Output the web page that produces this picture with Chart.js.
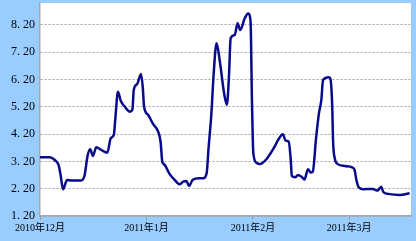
<!DOCTYPE html>
<html>
<head>
<meta charset="utf-8">
<script src="https://cdn.jsdelivr.net/npm/chart.js@4/dist/chart.umd.min.js"></script>
<style>
  html, body { margin: 0; padding: 0; background: #99ccff; }
  #chart { display: block; }
</style>
</head>
<body>
<canvas id="chart" width="416" height="241"></canvas>
<script>
// jours depuis le 1er décembre 2010
const days = [
    0, 2.8, 4.3, 5.4, 6.0, 6.7, 7.9, 9.1, 12.0, 13.0, 13.8, 14.6, 15.4, 16.4, 17.8, 19.6,
    20.6, 21.5, 21.9, 22.7, 23.5, 24.7, 26.2, 26.9, 27.3, 28.3, 29.4, 29.9, 30.3, 31.5,
    32.9, 34.4, 35.1, 35.6, 36.3, 37.6, 39.2, 40.7, 41.7, 42.6, 43.4, 44.4, 46.3, 47.5,
    48.5, 49.1, 49.9, 50.5, 51.4, 52.3, 53.6, 54.4, 55.0, 55.5, 56.7, 57.5, 58.3, 59.6,
    60.6, 61.3, 61.7, 62.1, 63.0, 64.0, 65.9, 68.3, 69.3, 70.7, 71.5, 72.4, 73.0, 73.3,
    74.3, 75.1, 76.1, 77.0, 78.0, 78.8, 79.4, 80.4, 81.2, 81.9, 82.4, 84.1, 84.5, 84.8,
    85.1, 85.3, 85.8, 86.7, 88.7, 90.9, 91.6, 92.1, 92.8, 94.0, 96.9, 98.3, 99.3, 100.0,
    101.3, 104.7, 107.6
];
const rates = [
    3.35, 3.35, 3.25, 3.07, 2.70, 2.18, 2.52, 2.50, 2.50, 2.70, 3.37, 3.64, 3.40, 3.72, 3.62, 3.52,
    4.05, 4.17, 4.72, 5.75, 5.42, 5.20, 5.02, 5.10, 5.82, 6.03, 6.40, 5.94, 5.20, 4.90,
    4.57, 4.29, 3.92, 3.19, 3.07, 2.76, 2.52, 2.36, 2.46, 2.48, 2.30, 2.52, 2.58, 2.58,
    2.76, 3.74, 4.96, 6.30, 7.53, 6.91, 5.69, 5.27, 6.30, 7.71, 7.83, 8.26, 8.01, 8.44,
    8.62, 8.32, 5.45, 3.50, 3.15, 3.10, 3.28, 3.74, 3.98, 4.19, 3.96, 3.92, 3.25, 2.67,
    2.62, 2.70, 2.64, 2.54, 2.91, 2.79, 2.82, 4.10, 4.96, 5.45, 6.18, 6.28, 6.24, 5.94,
    5.08, 3.98, 3.31, 3.10, 3.03, 2.98, 2.88, 2.52, 2.25, 2.18, 2.19, 2.13, 2.27, 2.07,
    2.01, 1.97, 2.03
];
const monthTicks = [0, 31, 62, 90];
const monthLabels = ['2010年12月', '2011年1月', '2011年2月', '2011年3月'];
const yTicks = [1.2, 2.2, 3.2, 4.2, 5.2, 6.2, 7.2, 8.2];

const labelFont = { family: '"Liberation Serif", "Noto Sans CJK SC", serif', size: 10 };

// fond bleu + zone de tracé blanche
const backgroundPlugin = {
    id: 'fonds',
    beforeDraw(chart) {
        const ctx = chart.ctx;
        const a = chart.chartArea;
        ctx.save();
        ctx.fillStyle = '#99ccff';
        ctx.fillRect(0, 0, chart.width, chart.height);
        ctx.fillStyle = '#ffffff';
        ctx.fillRect(a.left, a.top, a.right - a.left, a.bottom - a.top);
        ctx.restore();
    }
};

new Chart(document.getElementById('chart'), {
    type: 'line',
    data: {
        datasets: [{
            data: days.map((d, i) => ({ x: d, y: rates[i] })),
            borderColor: '#0a0a8c',
            borderWidth: 2.5,
            pointRadius: 0,
            fill: false,
            cubicInterpolationMode: 'monotone'
        }]
    },
    options: {
        responsive: false,
        animation: false,
        layout: { padding: { left: 0, right: 5, top: 3, bottom: 0 } },
        plugins: {
            legend: { display: false },
            tooltip: { enabled: false }
        },
        scales: {
            x: {
                type: 'linear',
                min: 0,
                max: 108,
                afterBuildTicks: scale => {
                    scale.ticks = monthTicks.map(v => ({ value: v }));
                },
                afterFit: scale => {
                    scale.height = 25;
                    scale.paddingLeft = 0;
                    scale.paddingRight = 0;
                },
                grid: { drawOnChartArea: false, drawTicks: true, tickLength: 4, color: '#9a9a9a' },
                border: { display: true, color: '#a8a8a8', width: 1.5 },
                ticks: {
                    autoSkip: false,
                    maxRotation: 0,
                    color: '#000',
                    font: labelFont,
                    padding: 2,
                    callback: (value) => monthLabels[monthTicks.indexOf(value)]
                }
            },
            y: {
                min: 1.2,
                max: 9.0,
                afterBuildTicks: scale => {
                    scale.ticks = yTicks.map(v => ({ value: v }));
                },
                afterFit: scale => {
                    scale.width = 40;
                    scale.paddingTop = 0;
                    scale.paddingBottom = 0;
                },
                grid: {
                    drawTicks: false,
                    color: '#a0a0a0',
                    lineWidth: 1
                },
                border: { display: true, color: '#a8a8a8', width: 1.5, dash: [2, 2] },
                ticks: {
                    color: '#000',
                    font: { family: '"Liberation Serif", serif', size: 12 },
                    padding: 5,
                    callback: (value) => value.toFixed(2).replace('.', '. ')
                }
            }
        }
    },
    plugins: [backgroundPlugin]
});
</script>
</body>
</html>
